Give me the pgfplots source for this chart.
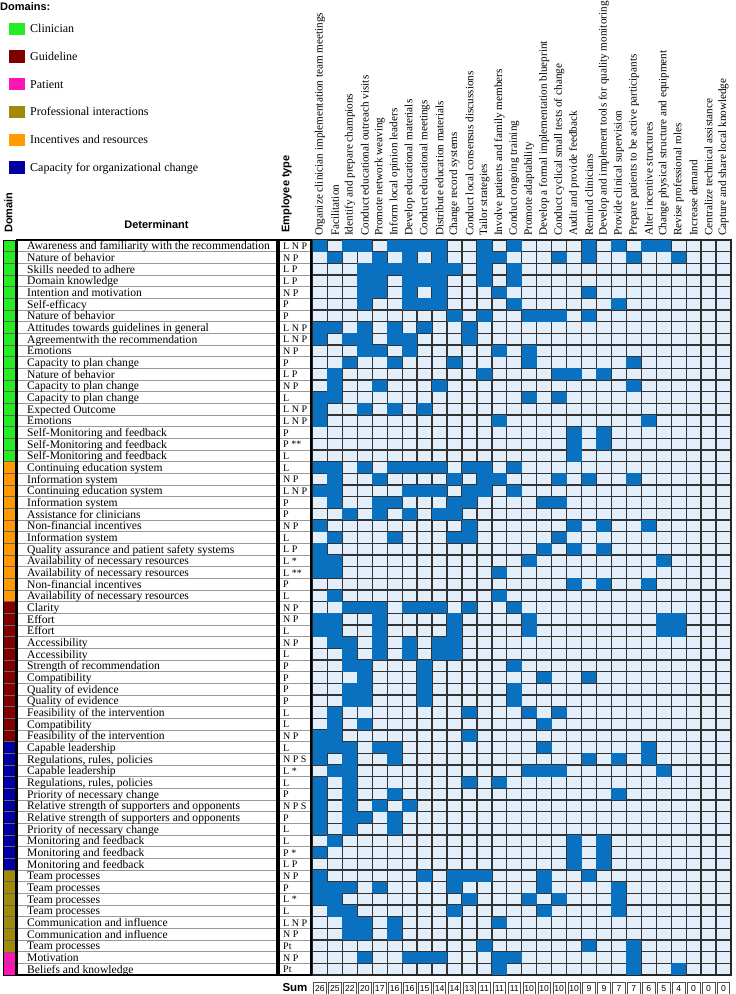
\documentclass[border=0pt]{standalone}
\usepackage{pgfplots}
\pgfplotsset{compat=1.18}
\usepackage{fontspec}
\setmainfont{Liberation Serif}
\newfontfamily\hd{Liberation Sans}
\definecolor{domclin}{HTML}{22EE22}
\definecolor{domguid}{HTML}{800000}
\definecolor{dompat}{HTML}{FF14B4}
\definecolor{domprof}{HTML}{A08A0A}
\definecolor{dominc}{HTML}{FF9A00}
\definecolor{domcap}{HTML}{0000A0}
\definecolor{darkcell}{HTML}{0A70C0}
\definecolor{lightcell}{HTML}{E2EEF9}
\definecolor{gridc}{HTML}{333333}
\pgfdeclareplotmark{cell}{\pgfpathrectangle{\pgfpoint{-7.475pt}{-5.835pt}}{\pgfpoint{14.95pt}{11.67pt}}\pgfusepathqfill}
\newcommand\rowfont{\fontsize{11.6}{12}\selectfont}
\begin{document}
\begin{tikzpicture}[x=1pt,y=1pt]
\useasboundingbox (0,0) rectangle (736,-994);
% legend
\node[anchor=west, inner sep=0, font=\hd\bfseries\fontsize{11}{12}\selectfont] at (0,-7) {Domains:};
\foreach \c/\t [count=\i] in {domclin/Clinician, domguid/Guideline, dompat/Patient, domprof/Professional interactions, dominc/Incentives and resources, domcap/Capacity for organizational change} {
  \fill[fill=\c] (8.5,{-22.7-(\i-1)*27.7}) rectangle (25,{-35-(\i-1)*27.7});
  \node[anchor=base west, inner sep=0, font=\fontsize{12}{13}\selectfont] at (30,{-32.6-(\i-1)*27.7}) {\t};
}
% headers
\node[rotate=90, anchor=west, inner sep=0, font=\hd\bfseries\fontsize{11}{12}\selectfont] at (8.5,-233) {Domain};
\node[inner sep=0, font=\hd\bfseries\fontsize{11}{12}\selectfont] at (156.5,-225) {Determinant};
\node[rotate=90, anchor=west, inner sep=0, font=\hd\bfseries\fontsize{11}{12}\selectfont] at (286.5,-233) {Employee type};
\node[inner sep=0, font=\hd\bfseries\fontsize{11.5}{12}\selectfont] at (295,-987.5) {Sum};

\begin{axis}[at={(312.5pt,-975pt)}, anchor=south west, scale only axis,
  width=418.5pt, height=735pt,
  xmin=0.5, xmax=28.5, ymin=0.5, ymax=63.5, y dir=reverse,
  axis background/.style={fill=lightcell},
  xtick={1,...,28}, ytick={1,...,63}, yticklabels={},
  xticklabel pos=upper,
  xticklabels={Organize clinician implementation team meetings, Facilitation, Identify and prepare champions, Conduct educational outreach visits, Promote network weaving, Inform local opinion leaders, Develop educational materials, Conduct educational meetings, Distribute education materials, Change record systems, Conduct local consensus discussions, Tailor strategies, Involve patients and family members, Conduct ongoing training, Promote adaptability, Develop a formal implementation blueprint, Conduct cyclical small tests of change, Audit and provide feedback, Remind clinicians, Develop and implement tools for quality monitoring, Provide clinical supervision, Prepare patients to be active participants, Alter incentive structures, Change physical structure and equipment, Revise professional roles, Increase demand, Centralize technical assistance, Capture and share local knowledge},
  x tick label style={rotate=90, anchor=west, inner sep=0pt, font=\fontsize{11.2}{12}\selectfont},
  xticklabel shift=4pt,
  minor xtick={0.5,1.5,...,28.5}, minor ytick={0.5,1.5,...,63.5},
  grid=minor, minor grid style={draw=gridc, line width=1.3pt},
  major tick length=0pt, minor tick length=0pt, tick style={draw=none},
  axis on top, axis line style={line width=1.8pt, draw=black!85},
  clip=false]
% domain column
\addplot[fill=domclin, draw=none] coordinates {(-20.21,0.5) (-19.4,0.5) (-19.4,19.5) (-20.21,19.5)} -- cycle;
\addplot[fill=dominc, draw=none] coordinates {(-20.21,19.5) (-19.4,19.5) (-19.4,31.5) (-20.21,31.5)} -- cycle;
\addplot[fill=domguid, draw=none] coordinates {(-20.21,31.5) (-19.4,31.5) (-19.4,43.5) (-20.21,43.5)} -- cycle;
\addplot[fill=domcap, draw=none] coordinates {(-20.21,43.5) (-19.4,43.5) (-19.4,54.5) (-20.21,54.5)} -- cycle;
\addplot[fill=domprof, draw=none] coordinates {(-20.21,54.5) (-19.4,54.5) (-19.4,61.5) (-20.21,61.5)} -- cycle;
\addplot[fill=dompat, draw=none] coordinates {(-20.21,61.5) (-19.4,61.5) (-19.4,63.5) (-20.21,63.5)} -- cycle;
% filled cells
\addplot[only marks, mark=cell, color=darkcell, mark options={fill=darkcell, draw=none}] coordinates {
(1,1)(3,1)(4,1)(6,1)(7,1)(8,1)(9,1)(12,1)(14,1)(19,1)(21,1)(23,1)(24,1)
(2,2)(5,2)(7,2)(9,2)(12,2)(13,2)(17,2)(19,2)(22,2)(25,2)
(4,3)(5,3)(6,3)(7,3)(8,3)(9,3)(10,3)(12,3)(14,3)
(4,4)(5,4)(7,4)(8,4)(9,4)(12,4)(14,4)
(4,5)(5,5)(7,5)(9,5)(13,5)(19,5)
(4,6)(7,6)(8,6)(9,6)(14,6)(21,6)
(10,7)(12,7)(15,7)(16,7)(17,7)(19,7)
(1,8)(2,8)(4,8)(6,8)(8,8)(11,8)
(1,9)(3,9)(4,9)(6,9)(7,9)(11,9)
(4,10)(5,10)(7,10)(13,10)(15,10)
(3,11)(6,11)(10,11)(15,11)(22,11)
(2,12)(12,12)(17,12)(18,12)(20,12)
(2,13)(5,13)(9,13)(22,13)
(1,14)(2,14)(15,14)(17,14)
(1,15)(4,15)(6,15)(8,15)
(1,16)(13,16)(23,16)
(18,17)(20,17)
(18,18)(20,18)
(18,19)
(1,20)(2,20)(4,20)(6,20)(7,20)(8,20)(9,20)(11,20)(12,20)(14,20)
(2,21)(5,21)(10,21)(12,21)(13,21)(17,21)(19,21)(22,21)
(1,22)(2,22)(7,22)(8,22)(9,22)(11,22)(12,22)(14,22)
(2,23)(5,23)(6,23)(10,23)(11,23)(16,23)(17,23)
(3,24)(5,24)(7,24)(9,24)(10,24)
(1,25)(11,25)(18,25)(20,25)(23,25)
(2,26)(6,26)(10,26)(11,26)(17,26)
(1,27)(16,27)(18,27)(20,27)
(1,28)(2,28)(15,28)(24,28)
(1,29)(2,29)(13,29)
(18,30)(20,30)(23,30)
(2,31)(13,31)
(3,32)(4,32)(5,32)(7,32)(8,32)(9,32)(11,32)(14,32)
(1,33)(2,33)(5,33)(10,33)(15,33)(24,33)(25,33)
(1,34)(2,34)(5,34)(10,34)(15,34)(24,34)(25,34)
(2,35)(3,35)(5,35)(7,35)(9,35)(10,35)
(3,36)(5,36)(7,36)(9,36)(10,36)
(3,37)(4,37)(8,37)(14,37)
(4,38)(8,38)(16,38)(19,38)
(3,39)(4,39)(8,39)(14,39)
(3,40)(4,40)(8,40)(14,40)
(2,41)(11,41)(15,41)(17,41)
(2,42)(4,42)(16,42)
(1,43)(2,43)(11,43)
(1,44)(2,44)(3,44)(5,44)(6,44)(16,44)(23,44)
(1,45)(3,45)(6,45)(19,45)(21,45)(23,45)
(2,46)(3,46)(15,46)(16,46)(17,46)(24,46)
(1,47)(3,47)(11,47)(13,47)
(1,48)(3,48)(6,48)(21,48)
(1,49)(3,49)(5,49)(7,49)
(1,50)(3,50)(4,50)(6,50)
(1,51)(3,51)(6,51)
(2,52)(18,52)(20,52)
(1,53)(18,53)(20,53)
(18,54)(20,54)
(1,55)(8,55)(10,55)(11,55)(12,55)(16,55)(19,55)
(1,56)(2,56)(3,56)(5,56)(10,56)(16,56)(21,56)
(1,57)(2,57)(11,57)(15,57)(17,57)(21,57)
(2,58)(3,58)(10,58)(16,58)(21,58)
(3,59)(4,59)(6,59)(13,59)
(3,60)(4,60)(6,60)
(12,61)(19,61)(22,61)
(4,62)(7,62)(8,62)(9,62)(13,62)(14,62)(22,62)
(13,63)(22,63)(25,63)
};
% sums
\addplot[draw=none, mark=none, nodes near coords, point meta=explicit symbolic,
  nodes near coords align=center,
  every node near coord/.append style={draw=gray!60!black, fill=white, line width=0.6pt, minimum width=12.5pt, minimum height=11.5pt, inner sep=0pt, font=\hd\fontsize{8.6}{9}\selectfont}]
coordinates {(1,64.64)[26] (2,64.64)[25] (3,64.64)[22] (4,64.64)[20] (5,64.64)[17] (6,64.64)[16] (7,64.64)[16] (8,64.64)[15] (9,64.64)[14] (10,64.64)[14] (11,64.64)[13] (12,64.64)[11] (13,64.64)[11] (14,64.64)[11] (15,64.64)[10] (16,64.64)[10] (17,64.64)[10] (18,64.64)[10] (19,64.64)[9] (20,64.64)[9] (21,64.64)[7] (22,64.64)[7] (23,64.64)[6] (24,64.64)[5] (25,64.64)[4] (26,64.64)[0] (27,64.64)[0] (28,64.64)[0]};
\end{axis}
% left table
\foreach \r in {1,...,62} {
  \draw[black!60, line width=0.4pt] (3,{-240-\r*11.667}) -- (15,{-240-\r*11.667});
  \draw[gray!80, line width=0.5pt] (17,{-240-\r*11.667}) -- (277,{-240-\r*11.667});
  \draw[gray!80, line width=0.5pt] (279,{-240-\r*11.667}) -- (311,{-240-\r*11.667});
}
\draw[line width=0.6pt] (3,-240) rectangle (15,-975);
\draw[line width=1.6pt] (17,-240) rectangle (277,-975);
\draw[line width=1.6pt] (279,-240) rectangle (311,-975);
\foreach \d/\e [count=\r] in {Awareness and familiarity with the recommendation/L N P, Nature of behavior/N P, Skills needed to adhere/L P, Domain knowledge/L P, Intention and motivation/N P, Self-efficacy/P, Nature of behavior/P, Attitudes towards guidelines in general/L N P, Agreementwith the recommendation/L N P, Emotions/N P, Capacity to plan change/P, Nature of behavior/L P, Capacity to plan change/N P, Capacity to plan change/L, Expected Outcome/L N P, Emotions/L N P, Self-Monitoring and feedback/P, Self-Monitoring and feedback/P **, Self-Monitoring and feedback/L, Continuing education system/L, Information system/N P, Continuing education system/L N P, Information system/P, Assistance for clinicians/P, Non-financial incentives/N P, Information system/L, Quality assurance and patient safety systems/L P, Availability of necessary resources/L *, Availability of necessary resources/L **, Non-financial incentives/P, Availability of necessary resources/L, Clarity/N P, Effort/N P, Effort/L, Accessibility/N P, Accessibility/L, Strength of recommendation/P, Compatibility/P, Quality of evidence/P, Quality of evidence/P, Feasibility of the intervention/L, Compatibility/L, Feasibility of the intervention/N P, Capable leadership/L, {Regulations, rules, policies}/N P S, Capable leadership/L *, {Regulations, rules, policies}/L, Priority of necessary change/P, Relative strength of supporters and opponents/N P S, Relative strength of supporters and opponents/P, Priority of necessary change/L, Monitoring and feedback/L, Monitoring and feedback/P *, Monitoring and feedback/L P, Team processes/N P, Team processes/P, Team processes/L *, Team processes/L, Communication and influence/L N P, Communication and influence/N P, Team processes/Pt, Motivation/N P, Beliefs and knowledge/Pt} {
  \node[anchor=base west, inner sep=0, font=\rowfont] at (27,{-240-(\r-0.5)*11.667-3.9}) {\d};
  \node[anchor=base west, inner sep=0, font=\fontsize{10}{11}\selectfont] at (283,{-240-(\r-0.5)*11.667-3.6}) {\e};
}
\end{tikzpicture}
\end{document}
